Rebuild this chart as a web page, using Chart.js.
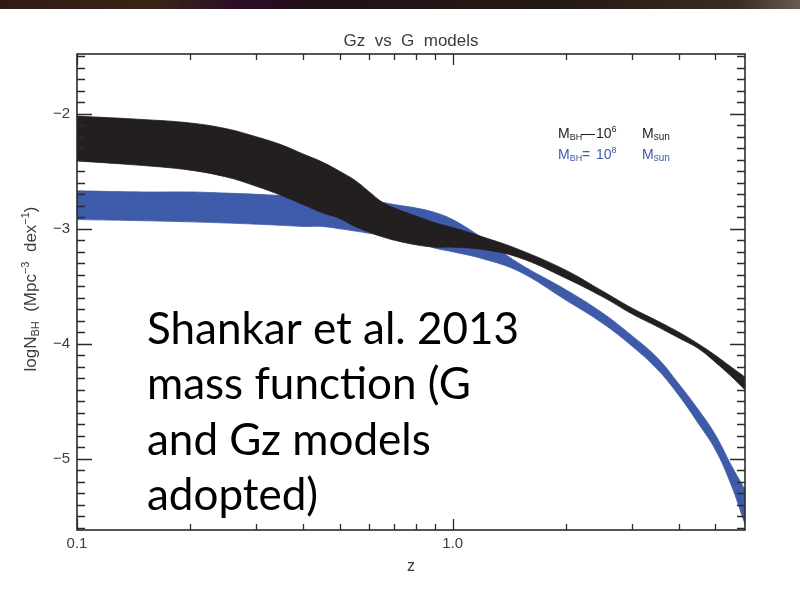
<!DOCTYPE html>
<html>
<head>
<meta charset="utf-8">
<script src="https://cdn.jsdelivr.net/npm/chart.js@4.4.1/dist/chart.umd.min.js"></script>
<style>
  html, body { margin: 0; padding: 0; background: #ffffff; }
  canvas { display: block; }
</style>
</head>
<body>
<canvas id="chart" width="800" height="598"></canvas>
<script>
// Redshift grid of the two model envelopes
const redshift = [0.1, 0.15, 0.2, 0.25, 0.3, 0.35, 0.4, 0.45, 0.5, 0.55, 0.6, 0.65, 0.7, 0.8, 0.9,
                  1.0, 1.2, 1.5, 2.0, 2.5, 3.0, 3.5, 4.0, 4.5, 5.0, 5.5, 6.0];

// log N_BH envelope, M_BH = 10^6 M_sun (upper / lower edge)
const mass6Upper = [-2.02, -2.05, -2.08, -2.13, -2.20, -2.27, -2.35, -2.42, -2.50, -2.58, -2.68, -2.77, -2.82, -2.89, -2.95,
                    -2.99, -3.07, -3.18, -3.36, -3.54, -3.69, -3.80, -3.90, -4.00, -4.10, -4.20, -4.29];
const mass6Lower = [-2.41, -2.45, -2.49, -2.55, -2.63, -2.71, -2.79, -2.86, -2.91, -2.98, -3.03, -3.07, -3.10, -3.14, -3.16,
                    -3.16, -3.18, -3.25, -3.43, -3.59, -3.74, -3.85, -3.95, -4.04, -4.16, -4.28, -4.40];

// log N_BH envelope, M_BH = 10^8 M_sun (upper / lower edge)
const mass8Upper = [-2.67, -2.68, -2.68, -2.69, -2.70, -2.71, -2.71, -2.72, -2.73, -2.74, -2.75, -2.77, -2.79, -2.82, -2.86,
                    -2.92, -3.08, -3.30, -3.53, -3.73, -3.93, -4.12, -4.35, -4.57, -4.79, -5.05, -5.27];
const mass8Lower = [-2.92, -2.93, -2.94, -2.95, -2.96, -2.97, -2.98, -2.98, -3.00, -3.02, -3.04, -3.06, -3.09, -3.12, -3.17,
                    -3.20, -3.26, -3.37, -3.62, -3.82, -4.02, -4.22, -4.45, -4.69, -4.92, -5.22, -5.57];

// Axis ticks
const zLabelTicks = [0.1, 1.0];
const zLabelText = ['0.1', '1.0'];
const zMinorTicks = [0.2, 0.3, 0.4, 0.5, 0.6, 0.7, 0.8, 0.9, 2, 3, 4, 5];
const logNLabelTicks = [-5, -4, -3, -2];

const BLACK = '#231f20';
const BLUE = '#3d5ba9';
const AXIS_INK = '#2b2b2b';
const LABEL_INK = '#3c3c3c';
const PLOT_FONT = '"Liberation Sans", Arial, Helvetica, sans-serif';

const points = ys => redshift.map((z, i) => ({ x: z, y: ys[i] }));

function edge(ys, color, fill) {
  return {
    data: points(ys),
    borderColor: color,
    backgroundColor: color,
    borderWidth: 0.8,
    pointRadius: 0,
    tension: 0.4,
    fill: fill
  };
}

// Text pieces with sub/superscripts, laid out left to right from x on baseline y
function richWidth(ctx, parts) {
  let w = 0;
  for (const p of parts) {
    ctx.font = p.size + 'px ' + PLOT_FONT;
    w += ctx.measureText(p.t).width;
  }
  return w;
}
function drawRich(ctx, parts, x, y) {
  for (const p of parts) {
    ctx.font = p.size + 'px ' + PLOT_FONT;
    const px = (p.at !== undefined) ? p.at : x;
    ctx.fillText(p.t, px, y + (p.dy || 0));
    x = px + ctx.measureText(p.t).width;
  }
}

const frameAndText = {
  id: 'frameAndText',
  beforeDraw(chart) {
    const { ctx, width, height } = chart;
    ctx.save();
    ctx.fillStyle = '#ffffff';
    ctx.fillRect(0, 0, width, height);
    // dark slide banner along the top edge
    const g = ctx.createLinearGradient(0, 0, width, 0);
    g.addColorStop(0.00, '#2e1c12');
    g.addColorStop(0.20, '#3a2418');
    g.addColorStop(0.30, '#2c0c28');
    g.addColorStop(0.38, '#221018');
    g.addColorStop(0.70, '#241a14');
    g.addColorStop(0.92, '#3a2c22');
    g.addColorStop(1.00, '#6a5a50');
    ctx.fillStyle = g;
    ctx.fillRect(0, 0, width, 9);
    ctx.restore();
  },
  afterDatasetsDraw(chart) {
    const { ctx, chartArea: a, scales: { x, y } } = chart;
    ctx.save();
    ctx.strokeStyle = AXIS_INK;
    ctx.lineWidth = 1.3;
    ctx.beginPath();
    // z axis ticks, bottom and top, pointing inward
    for (const v of zMinorTicks) {
      const px = Math.round(x.getPixelForValue(v)) + 0.5;
      ctx.moveTo(px, a.bottom); ctx.lineTo(px, a.bottom - 6);
      ctx.moveTo(px, a.top); ctx.lineTo(px, a.top + 6);
    }
    for (const v of zLabelTicks) {
      const px = Math.round(x.getPixelForValue(v)) + 0.5;
      ctx.moveTo(px, a.bottom); ctx.lineTo(px, a.bottom - 11);
      ctx.moveTo(px, a.top); ctx.lineTo(px, a.top + 11);
    }
    // log N ticks, left and right, every 0.1 dex
    for (let k = -56; k <= -15; k++) {
      const v = k / 10;
      const py = Math.round(y.getPixelForValue(v)) + 0.5;
      const len = (k % 10 === 0) ? 15 : 8;
      ctx.moveTo(a.left, py); ctx.lineTo(a.left + len, py);
      ctx.moveTo(a.right, py); ctx.lineTo(a.right - len, py);
    }
    ctx.stroke();
    ctx.lineWidth = 1.6;
    ctx.strokeRect(a.left, a.top, a.right - a.left, a.bottom - a.top);
    ctx.restore();
  },
  afterDraw(chart) {
    const { ctx, chartArea: a } = chart;
    ctx.save();
    // Plot title
    ctx.fillStyle = LABEL_INK;
    ctx.textAlign = 'center';
    ctx.textBaseline = 'alphabetic';
    ctx.font = '17px ' + PLOT_FONT;
    ctx.fillText('Gz  vs  G  models', (a.left + a.right) / 2, 46);

    // Vertical axis title with sub- and superscripts
    ctx.textAlign = 'left';
    const yTitle = [
      { t: 'logN', size: 17 },
      { t: 'BH', size: 11, dy: 3 },
      { t: '  (Mpc', size: 17 },
      { t: '\u22123', size: 11, dy: -7 },
      { t: '  dex', size: 17 },
      { t: '\u22121', size: 11, dy: -7 },
      { t: ')', size: 17 }
    ];
    ctx.translate(36, (a.top + a.bottom) / 2 - 3);
    ctx.rotate(-Math.PI / 2);
    drawRich(ctx, yTitle, -richWidth(ctx, yTitle) / 2, 0);
    ctx.setTransform(1, 0, 0, 1, 0, 0);

    // Series key
    const key6 = [
      { t: 'M', size: 14, at: 558 }, { t: 'BH', size: 9, dy: 2 }, { t: '\u2014', size: 14, at: 581 },
      { t: '10', size: 14, at: 596 }, { t: '6', size: 9, dy: -6 }, { t: 'M', size: 14, at: 642 },
      { t: 'sun', size: 10, dy: 2 }
    ];
    const key8 = [
      { t: 'M', size: 14, at: 558 }, { t: 'BH', size: 9, dy: 2 }, { t: '=', size: 14, at: 582 },
      { t: '10', size: 14, at: 596 }, { t: '8', size: 9, dy: -6 }, { t: 'M', size: 14, at: 642 },
      { t: 'sun', size: 10, dy: 2 }
    ];
    ctx.fillStyle = BLACK;
    drawRich(ctx, key6, 558, 138);
    ctx.fillStyle = BLUE;
    drawRich(ctx, key8, 558, 159);

    // Annotation
    ctx.fillStyle = '#000000';
    ctx.font = '44px Lato, "Open Sans", sans-serif';
    const note = ['Shankar et al. 2013', 'mass function (G', 'and Gz models', 'adopted)'];
    const baselines = [344, 399, 455, 510];
    note.forEach((line, i) => ctx.fillText(line, 147, baselines[i]));
    ctx.restore();
  }
};

new Chart(document.getElementById('chart'), {
  type: 'line',
  data: {
    datasets: [
      edge(mass6Upper, BLACK, '+1'),
      edge(mass6Lower, BLACK, false),
      edge(mass8Upper, BLUE, '+1'),
      edge(mass8Lower, BLUE, false)
    ]
  },
  options: {
    responsive: false,
    animation: false,
    events: [],
    layout: { padding: { top: 54, right: 55, bottom: 0, left: 0 } },
    plugins: { legend: { display: false }, tooltip: { enabled: false }, title: { display: false } },
    scales: {
      x: {
        type: 'logarithmic',
        min: 0.1,
        max: 6,
        grid: { display: false, drawTicks: false },
        border: { display: false },
        afterBuildTicks: s => { s.ticks = zLabelTicks.map(v => ({ value: v })); },
        afterFit: s => { s.height = 68; },
        ticks: {
          autoSkip: false,
          maxRotation: 0,
          padding: 5,
          color: LABEL_INK,
          font: { family: PLOT_FONT, size: 15 },
          callback: v => zLabelText[zLabelTicks.indexOf(v)] ?? ''
        },
        title: {
          display: true,
          text: 'z',
          color: LABEL_INK,
          font: { family: PLOT_FONT, size: 16 },
          padding: { top: 0, bottom: 22 }
        }
      },
      y: {
        type: 'linear',
        min: -5.62,
        max: -1.48,
        grid: { display: false, drawTicks: false },
        border: { display: false },
        afterBuildTicks: s => { s.ticks = logNLabelTicks.map(v => ({ value: v })); },
        afterFit: s => { s.width = 77; },
        ticks: {
          padding: 7,
          color: LABEL_INK,
          font: { family: PLOT_FONT, size: 15 },
          callback: v => '\u2212' + Math.abs(v)
        }
      }
    }
  },
  plugins: [frameAndText]
});
</script>
</body>
</html>
